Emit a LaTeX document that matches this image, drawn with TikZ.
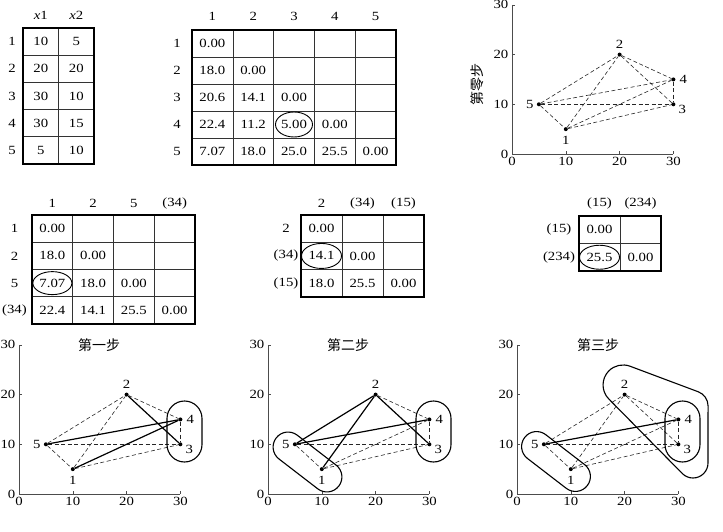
\documentclass[tikz,border=0pt]{standalone}
\usepackage{fontspec}
\setmainfont{Liberation Serif}[FakeStretch=1.18]
\newfontfamily\cjk{Noto Sans CJK SC}
\usetikzlibrary{shapes.misc,shapes.geometric}
\tikzset{
 tline/.style={line width=0.6pt, black!80},
 tborder/.style={line width=1.3pt},
 ring/.style={draw, ellipse, line width=0.9pt, inner sep=0pt},
 axisline/.style={line width=0.6pt, black!70},
 ptdot/.style={circle, fill, inner sep=0pt, minimum size=4pt},
 dl/.style={dash pattern=on 4pt off 2.5pt, line width=0.6pt, black!85},
 sl/.style={line width=1.2pt},
 stad/.style={draw, rounded rectangle, line width=1.1pt, inner sep=0pt},
 cjkt/.style={font=\cjk\fontsize{14}{16}\selectfont},
}
\newcommand\tgrid[6]{%
\begin{scope}[shift={(#1,#2)}]
\foreach \i in {1,...,#3} \draw[tline] ({\i*#5},0) -- ({\i*#5},{-#4*#6});
\foreach \j in {1,...,#4} \draw[tline] (0,{-\j*#6}) -- ({#3*#5},{-\j*#6});
\draw[tborder] (0,0) rectangle ({#3*#5},{-#4*#6});
\end{scope}}
\newcommand\plotbase[3]{%
\begin{scope}[shift={(#2,-#3)}, x=5.38pt, y=4.97pt]
 \draw[axisline] (0,30) -- (0,0) -- (30,0);
 \foreach \v in {10,20,30} {\draw[axisline] (\v,0) -- ++(0pt,3pt); \draw[axisline] (0,\v) -- ++(3pt,0pt);}
 \foreach \v in {0,10,20,30} {\node[below=1.5pt] (#1x\v) at (\v,0) {\v}; \node[left=2.5pt] (#1y\v) at (0,\v) {\v};}
 \node[ptdot] (#1-1) at (10,5) {};
 \node[ptdot] (#1-2) at (20,20) {};
 \node[ptdot] (#1-3) at (30,10) {};
 \node[ptdot] (#1-4) at (30,15) {};
 \node[ptdot] (#1-5) at (5,10) {};
 \node (#1-l1) at ([yshift=-11pt]#1-1) {1};
 \node (#1-l2) at ([yshift=10pt]#1-2) {2};
 \node (#1-l3) at ([xshift=9pt,yshift=-5pt]#1-3) {3};
 \node (#1-l4) at ([xshift=10pt]#1-4) {4};
 \node (#1-l5) at ([xshift=-9pt]#1-5) {5};
\end{scope}}
\begin{document}
\begin{tikzpicture}[x=1pt,y=1pt, every node/.style={font=\fontsize{12.5}{14}\selectfont, inner sep=1pt}]
\useasboundingbox (0,0) rectangle (723,-532);
% ---------- Table 1
\tgrid{23}{-28}{2}{5}{35.5}{27.2}
\begin{scope}[shift={(23,-28)}]
 \node (ah1) at (17.75,13) {\textit{x}1};
 \node (ah2) at (53.25,13) {\textit{x}2};
 \foreach \r in {1,...,5} \node (al\r) at (-11,{-(\r-0.5)*27.2}) {\r};
 \foreach \r/\a/\b in {1/10/5, 2/20/20, 3/30/10, 4/30/15, 5/5/10} {
  \node (a\r1) at (17.75,{-(\r-0.5)*27.2}) {\a};
  \node (a\r2) at (53.25,{-(\r-0.5)*27.2}) {\b};}
\end{scope}
% ---------- Table 2
\tgrid{192}{-30}{5}{5}{40.8}{27}
\begin{scope}[shift={(192,-30)}]
 \foreach \c in {1,...,5} \node (bh\c) at ({(\c-0.5)*40.8},14) {\c};
 \foreach \r in {1,...,5} \node (bl\r) at (-15,{-(\r-0.5)*27}) {\r};
 \foreach \r/\c/\t in {1/1/0.00, 2/1/18.0, 2/2/0.00, 3/1/20.6, 3/2/14.1, 3/3/0.00,
   4/1/22.4, 4/2/11.2, 4/3/5.00, 4/4/0.00, 5/1/7.07, 5/2/18.0, 5/3/25.0, 5/4/25.5, 5/5/0.00}
  \node (b\r\c) at ({(\c-0.5)*40.8},{-(\r-0.5)*27}) {\t};
 \node[ring, minimum width=37pt, minimum height=25pt] (be) at (b43) {};
\end{scope}
% ---------- Table 3
\tgrid{32}{-215}{4}{4}{40.75}{27.25}
\begin{scope}[shift={(32,-215)}]
 \foreach \c/\t in {1/1, 2/2, 3/5, 4/{(34)}} \node (ch\c) at ({(\c-0.5)*40.75},12) {\t};
 \foreach \r/\t in {1/1, 2/2, 3/5, 4/{(34)}} \node (cl\r) at (-17.5,{-(\r-0.5)*27.25}) {\t};
 \foreach \r/\c/\t in {1/1/0.00, 2/1/18.0, 2/2/0.00, 3/1/7.07, 3/2/18.0, 3/3/0.00,
   4/1/22.4, 4/2/14.1, 4/3/25.5, 4/4/0.00}
  \node (c\r\c) at ({(\c-0.5)*40.75},{-(\r-0.5)*27.25}) {\t};
 \node[ring, minimum width=39pt, minimum height=23pt] (ce) at (c31) {};
\end{scope}
% ---------- Table 4
\tgrid{301}{-215}{3}{3}{41}{27.3}
\begin{scope}[shift={(301,-215)}]
 \foreach \c/\t in {1/2, 2/{(34)}, 3/{(15)}} \node (dh\c) at ({(\c-0.5)*41},12) {\t};
 \foreach \r/\t in {1/2, 2/{(34)}, 3/{(15)}} \node (dl\r) at (-15,{-(\r-0.5)*27.3}) {\t};
 \foreach \r/\c/\t in {1/1/0.00, 2/1/14.1, 2/2/0.00, 3/1/18.0, 3/2/25.5, 3/3/0.00}
  \node (d\r\c) at ({(\c-0.5)*41},{-(\r-0.5)*27.3}) {\t};
 \node[ring, minimum width=40pt, minimum height=25pt] (de) at (d21) {};
\end{scope}
% ---------- Table 5
\tgrid{579}{-216}{2}{2}{41}{27.5}
\begin{scope}[shift={(579,-216)}]
 \foreach \c/\t in {1/{(15)}, 2/{(234)}} \node (eh\c) at ({(\c-0.5)*41},13) {\t};
 \foreach \r/\t in {1/{(15)}, 2/{(234)}} \node (el\r) at (-20,{-(\r-0.5)*27.5}) {\t};
 \foreach \r/\c/\t in {1/1/0.00, 2/1/25.5, 2/2/0.00}
  \node (e\r\c) at ({(\c-0.5)*41},{-(\r-0.5)*27.5}) {\t};
 \node[ring, minimum width=40pt, minimum height=24pt] (ee) at (e21) {};
\end{scope}
% ---------- Plot 0 (top right)
\plotbase{p}{512}{154}
\node[cjkt, rotate=90] (pylab) at (477,-85) {第零步};
\foreach \a/\b in {5/2, 5/4, 5/3, 5/1, 1/2, 1/4, 1/3, 2/4, 2/3, 4/3}
 \draw[dl] (p-\a) -- (p-\b);
% ---------- Plot 1
\plotbase{q}{19}{494}
\node[cjkt] (qt) at (99,-345) {第一步};
\foreach \a/\b in {5/2, 5/3, 5/1, 1/2, 1/3, 2/4, 4/3}
 \draw[dl] (q-\a) -- (q-\b);
\foreach \a/\b in {5/4, 1/4, 2/3}
 \draw[sl] (q-\a) -- (q-\b);
\node[stad, rotate=90, minimum width=61pt, minimum height=35pt] (qs34) at (184.5,-431.5) {};
% ---------- Plot 2
\plotbase{r}{268}{494}
\node[cjkt] (rt) at (348,-345) {第二步};
\foreach \a/\b in {5/1, 5/3, 1/4, 1/3, 2/4, 4/3}
 \draw[dl] (r-\a) -- (r-\b);
\foreach \a/\b in {5/2, 1/2, 2/3, 5/4}
 \draw[sl] (r-\a) -- (r-\b);
\node[stad, rotate=90, minimum width=61pt, minimum height=35pt] (rs34) at (433.5,-431.5) {};
\node[stad, rotate=-37.6, minimum width=79pt, minimum height=30pt] (rs15) at (307.5,-462) {};
% ---------- Plot 3
\plotbase{s}{517}{494}
\node[cjkt] (st) at (598,-345) {第三步};
\foreach \a/\b in {5/2, 5/3, 5/1, 1/2, 1/4, 1/3, 2/4, 2/3, 4/3}
 \draw[dl] (s-\a) -- (s-\b);
\draw[sl] (s-5) -- (s-4);
\node[stad, rotate=90, minimum width=61pt, minimum height=35pt] (ss34) at (682.5,-431.5) {};
\node[stad, rotate=-37.6, minimum width=79pt, minimum height=30pt] (ss15) at (556,-461.5) {};
\draw[line width=1.1pt] (608.9,-399.1) arc[start angle=225, end angle=69.5, radius=20]
  -- (698.3,-391.8) arc[start angle=69.5, end angle=0, radius=15]
  -- (708,-463) arc[start angle=0, end angle=-135, radius=15] -- cycle;
\end{tikzpicture}
\end{document}
